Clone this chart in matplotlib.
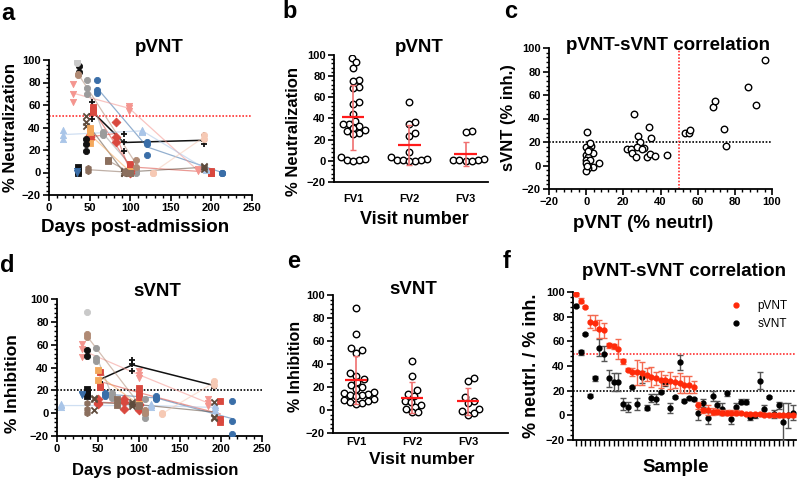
import matplotlib
matplotlib.use("Agg")
import matplotlib.pyplot as plt
import numpy as np
from matplotlib.ticker import MultipleLocator
from matplotlib.lines import Line2D

plt.rcParams['font.family'] = ['Liberation Sans', 'DejaVu Sans']
plt.rcParams['font.weight'] = 'bold'
plt.rcParams['axes.linewidth'] = 1.3

W, H = 799, 478

# patient series (panels a and d)
pat_colors = ['#111111', '#3a6ea8', '#f4958f', '#d9483e', '#a9c5e8', '#9b9b9b',
              '#d9483e', '#5e4b3c', '#f4a85c', '#8b6f5e', '#111111', '#111111',
              '#111111', '#b08a74', '#f6c9b4', '#c9c9c9', '#8b6f5e', '#3a6ea8']
pat_markers = ['+', 'o', 'v', 's', '^', 'o', 'D', 'x', 's', 's', 's', 'o',
               'o', 'o', 'o', 'o', 'h', 'v']

a_days = [[53, 92, 191], [59, 121, 213], [29, 99, 183], [54, 100, 199],
          [17, 115, 193], [47, 67, 107], [50, 82, 100], [45, 92, 191],
          [50, 100], [73, 100], [36], [37], [45], [36, 107], [128, 191],
          [35], [48, 93], [34]]
a_reps = [[[63, 52, 48], [34, 27, 19], [33, 28, 25]],
          [[82, 73, 71], [27, 25, 16], [0, 0, 0]],
          [[79, 70, 63], [59, 57, 55], [3, 2, 1]],
          [[58, 56, 54], [8, 5, 2], [1, 0, 0]],
          [[38, 33, 30], [38, 37, 36], [4, 3, 2]],
          [[82, 75, 70], [36, 34, 33], [2, 1, 0]],
          [[33, 32, 30], [45, 32, 27], [2, 1, 0]],
          [[50, 45, 41], [1, 0, 0], [6, 5, 3]],
          [[40, 36, 26], [1, 1, 0]],
          [[11, 10], [0, 0]],
          [[5, 1, 0]],
          [[95, 89]],
          [[30, 25, 19]],
          [[88, 87], [11, 5]],
          [[0, 0], [33, 30]],
          [[99, 97]],
          [[4, 1], [1, 0]],
          [[1, 0]]]

d_days = [[53, 92, 191], [59, 121, 213], [30, 100, 184], [53, 100, 199],
          [5, 115, 193], [48, 67, 107], [50, 82, 100], [45, 92, 191],
          [50, 100], [73, 100], [36], [37], [], [36, 107], [128, 191],
          [36], [36], [30]]
d_reps = [[[36, 27, 26], [47, 43, 37], [27, 24, 22]],
          [[18, 17, 15], [15, 13, 12], [11, -7, -18]],
          [[61, 56, 49], [37, 33, 31], [12, 9, 6]],
          [[36, 24, 23], [22, 18, 14], [11, -5, -8]],
          [[8, 7, 5], [8, 7, 5], [7, 5, 3]],
          [[57, 48, 46], [18, 15, 13], [12, -1, -4]],
          [[12, 9, 8], [12, 10, 4], [8, 7, 3]],
          [[13, 12, 3], [10, 8, 6], [10, -3, -4]],
          [[38, 29], [8, 7]],
          [[12, 7], [7, 6]],
          [[21, 18, 15]],
          [[55, 50]],
          [],
          [[69, 67], [3, 0]],
          [[0, -1], [28, 25]],
          [[89]],
          [[9, 4, 0]],
          [[17, 16]]]

# panels b / e: values per visit
visits = ['FV1', 'FV2', 'FV3']
b_fv1 = [97, 93, 88, 76, 75, 70, 69, 56, 54, 44, 38, 35, 35, 33, 31, 29, 28, 26, 25, 4, 2, 1, 0.5, 0]
b_fv2 = [56, 37, 35, 26, 23, 8, 4, 2, 1, 1, 0.5, 0, 0]
b_fv3 = [28, 27, 2, 1, 1, 0.5, 0, 0]
b_mean = [41, 15, 6.5]
b_sd = [30.5, 19, 11.5]
e_fv1 = [89, 66, 54, 52, 50, 32, 30, 27, 24, 22, 20, 18, 16, 15, 14, 13, 13, 12, 10, 9, 8, 7, 6, 5]
e_fv2 = [43, 30, 17, 14, 12, 8, 7, 4, 3, 1, -2, -2]
e_fv3 = [28, 25, 11, 8, 6, 1, -1, -3, -4]
e_mean = [26, 10.5, 7.5]
e_sd = [21, 13.5, 11.5]

# panel c: pVNT vs sVNT
c_p = [0.2, 0, 2.4, 1.7, 3.5, 0, 1.1, 0, 2.2, 0, 3.5, 1.1, 0, 7, 1, 0.5, 2,
       22, 24, 24.5, 26, 27, 28, 29, 27.5, 31, 30, 32.5, 34, 35, 34.5, 37, 43.5,
       53, 55.4, 56, 68.2, 69.5, 74.3, 75, 87.2, 91.5, 96.5]
c_s = [28.8, 15.5, 17, 13, 10.3, 9, 7, 4.7, 5, 2, -1.5, -2.4, -4.4, 2, 12, 0, 19,
       14.3, 14.3, 11, 44, 7, 25, 20, 16, 15, 14, 7, 32.5, 23.5, 9.8, 7.8, 9,
       27.4, 27.4, 30, 50, 55, 30.8, 16.6, 67, 51.5, 89.5]

# panel f: samples sorted by pVNT
f_p = [98, 93, 88, 76, 75, 70, 69, 57, 56, 54, 44, 37, 35, 35, 34, 33, 31, 30, 29, 29,
       28, 27, 26, 25, 25, 23, 8, 4, 4, 3, 3, 2, 2, 2, 2, 2, 1, 1, 1, 1, 0.5, 0.5, 0.5, 0, 0, 0, 0]
f_p_err = [1, 2, 1, 5, 6, 7, 6, 2, 2, 8, 2, 1, 3, 10, 9, 5, 8, 5, 7, 4, 7, 5, 8, 7, 7, 5,
           3, 2, 4, 3, 2, 2, 2, 2, 2, 1, 1, 1, 1, 1, 1, 1, 1, 1, 1, 1, 1]
f_s = [89, 51, 66, 16, 30, 55, 50, 30, 27, 27, 9, 7, 23, 9, 31, 6, 14, 13, 19, 26,
       6, 15, 43, 12, 14, 13, 2, 10, -2, 16, 8, 5, 18, -3, 7, 11, 11, -1, 0, 28,
       5, 15, 1, 8, -5, 0, 2]
f_s_err = [1, 2, 1, 1, 2, 7, 6, 7, 7, 7, 5, 4, 1, 5, 5, 2, 3, 4, 1, 2, 4, 1, 6, 1, 1, 1,
           6, 3, 5, 4, 4, 5, 2, 4, 3, 2, 2, 3, 2, 7, 3, 1, 3, 3, 15, 10, 6]


fig = plt.figure(figsize=(W / 100, H / 100), dpi=100)


def add_ax(l, t, r, b):
    return fig.add_axes([l / W, 1 - b / H, (r - l) / W, (b - t) / H])


def ftext(x, y, s, size, rot=0, weight='bold'):
    fig.text(x / W, 1 - y / H, s, ha='center', va='center', fontsize=size,
             fontweight=weight, rotation=rot)


def style(ax, ymin=4):
    for side in ['top', 'right']:
        ax.spines[side].set_visible(False)
    ax.tick_params(which='major', length=4, width=1.2, labelsize=8, pad=2)
    ax.tick_params(which='minor', length=2.2, width=1)
    ax.set_ylim(-20, 100)
    ax.yaxis.set_major_locator(MultipleLocator(20))
    ax.yaxis.set_minor_locator(MultipleLocator(ymin))


def follow_up(ax, days, reps, hline, hcolor):
    ax.axhline(hline, color=hcolor, ls=(0, (1, 1)), lw=1.2, zorder=1)
    for i, (dd, rr) in enumerate(zip(days, reps)):
        if not dd:
            continue
        col, mk = pat_colors[i], pat_markers[i]
        means = [np.mean(r) for r in rr]
        if len(dd) > 1:
            if i == 0:
                ax.plot(dd, means, color=col, lw=1.1, zorder=2)
            else:
                ax.plot(dd, means, color=col, lw=0.9, alpha=0.55, zorder=2)
        for d, r in zip(dd, rr):
            if mk in ['+', 'x']:
                ax.scatter([d] * len(r), r, marker=mk, color=col, s=20, lw=1.3, zorder=3)
            else:
                ax.scatter([d] * len(r), r, marker=mk, color=col, s=20,
                           edgecolors=col, lw=0.6, zorder=3)
    style(ax)
    ax.set_xlim(0, 250)
    ax.xaxis.set_major_locator(MultipleLocator(50))
    ax.xaxis.set_minor_locator(MultipleLocator(10))


def swarm(vals, xpx, ypx, dist=6.0):
    vals = np.asarray(vals, float)
    offs = np.zeros(len(vals))
    placed = []
    for i in np.argsort(vals):
        y = vals[i] * ypx
        k = 0
        while True:
            for o in ([0.0] if k == 0 else [k * 1.5, -k * 1.5]):
                if all((o - po) ** 2 + (y - py) ** 2 >= dist ** 2 for po, py in placed):
                    break
            else:
                k += 1
                continue
            break
        placed.append((o, y))
        offs[i] = o / xpx
    return offs


def visit_plot(ax, groups, means, sds, xr, pad):
    for j, g in enumerate(groups):
        x = j + swarm(g, 56, 1.07)
        ax.scatter(x, g, s=22, facecolors='white', edgecolors='black', lw=1.0, zorder=3)
        ax.errorbar(j, means[j], yerr=sds[j], color='#f07070', lw=1.2, capsize=2.5,
                    capthick=1.0, zorder=4)
        ax.hlines(means[j], j - 0.2, j + 0.2, color='#ff1a1a', lw=1.6, zorder=5)
    style(ax)
    ax.set_xlim(*xr)
    ax.set_xticks(range(len(visits)))
    ax.set_xticklabels(visits)
    ax.tick_params(axis='x', length=0, pad=pad)


# ---- a ----
ax = add_ax(49, 60, 252, 195)
follow_up(ax, a_days, a_reps, 50, '#ff3030')
ftext(159, 48, 'pVNT', 13.5)
ftext(135, 227, 'Days post-admission', 13.5)
ftext(11, 127, '% Neutralization', 12, rot=90)
ftext(8, 13, 'a', 17)

# ---- b ----
ax = add_ax(334, 55, 488, 182)
visit_plot(ax, [b_fv1, b_fv2, b_fv3], b_mean, b_sd, (-0.34, 2.4), 9)
ftext(419, 47, 'pVNT', 13.5)
ftext(414, 220, 'Visit number', 13)
ftext(294, 132, '% Neutralization', 12, rot=90)
ftext(290, 12, 'b', 17)

# ---- c ----
ax = add_ax(549, 48, 772, 189)
ax.scatter(c_p, c_s, s=22, facecolors='white', edgecolors='black', lw=1.0, zorder=3)
ax.axhline(20, color='black', ls=(0, (1, 1)), lw=1.2, zorder=1)
ax.axvline(50, color='#ff3030', ls=(0, (1, 1)), lw=1.2, zorder=1)
style(ax)
ax.set_xlim(-20, 100)
ax.xaxis.set_major_locator(MultipleLocator(20))
ax.xaxis.set_minor_locator(MultipleLocator(4))
ftext(668, 45, 'pVNT-sVNT correlation', 13.5)
ftext(643, 223, 'pVNT (% neutrl)', 13.5)
ftext(509, 118, 'sVNT (% inh.)', 12, rot=90)
ftext(511, 12, 'c', 17)

# ---- d ----
ax = add_ax(57, 299, 262, 436)
follow_up(ax, d_days, d_reps, 20, 'black')
ftext(157, 291, 'sVNT', 13.5)
ftext(155, 470, 'Days post-admission', 12)
ftext(13, 384, '% Inhibition', 12.5, rot=90)
ftext(7, 265, 'd', 17)

# ---- e ----
ax = add_ax(333, 295, 508, 433)
visit_plot(ax, [e_fv1, e_fv2, e_fv3], e_mean, e_sd, (-0.41, 2.71), 3)
ftext(413, 290, 'sVNT', 13.5)
ftext(422, 460, 'Visit number', 12.5)
ftext(296, 366, '% Inhibition', 11.5, rot=90)
ftext(294, 262, 'e', 17)

# ---- f ----
ax = add_ax(573, 292, 796, 440)
xs = np.arange(len(f_p))
ax.axhline(50, color='#ff3030', ls=(0, (1, 1)), lw=1.2, zorder=1)
ax.axhline(20, color='black', ls=(0, (1, 1)), lw=1.2, zorder=1)
ax.errorbar(xs, f_s, yerr=f_s_err, fmt='o', color='black', ecolor='#555555', ms=3.5,
            elinewidth=1, capsize=2, capthick=1, zorder=3)
ax.errorbar(xs, f_p, yerr=f_p_err, fmt='o', color='#ff2a0a', ecolor='#f46a50', ms=3.5,
            elinewidth=1, capsize=2, capthick=1, zorder=4)
style(ax)
ax.set_xlim(-0.6, len(f_p) - 0.3)
ax.set_xticks(xs)
ax.set_xticklabels([])
ax.tick_params(axis='x', length=4, width=1)
handles = [Line2D([], [], ls='none', marker='o', ms=3.5, color='#ff2a0a'),
           Line2D([], [], ls='none', marker='o', ms=3.5, color='black')]
leg = ax.legend(handles, ['pVNT', 'sVNT'], loc='upper right', frameon=False, fontsize=8.5,
                handletextpad=0.8, borderaxespad=0.3, bbox_to_anchor=(1.0, 1.0))
for t in leg.get_texts():
    t.set_fontweight('normal')
ftext(684, 272, 'pVNT-sVNT correlation', 13.5)
ftext(676, 467, 'Sample', 13.5)
ftext(531, 366, '% neutrl. / % inh.', 13, rot=90)
ftext(507, 262, 'f', 17)

fig.savefig('out.png', dpi=100)
